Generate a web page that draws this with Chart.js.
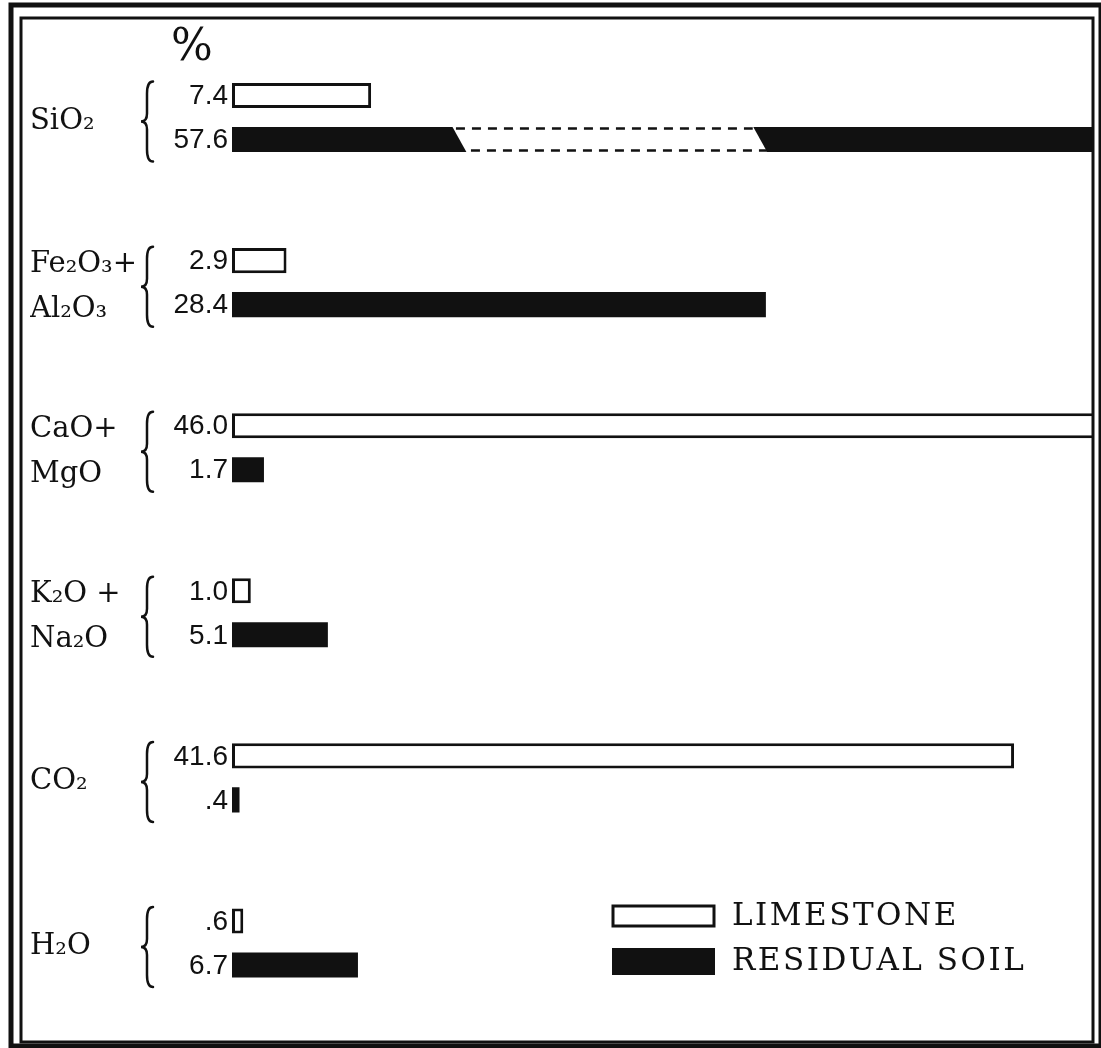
<!DOCTYPE html>
<html><head><meta charset="utf-8">
<script src="https://cdn.jsdelivr.net/npm/chart.js@4.4.1/dist/chart.umd.min.js"></script>
<style>html,body{margin:0;padding:0;background:#fff;overflow:hidden}canvas{display:block}</style>
</head><body>
<canvas id="c" width="1101" height="1048"></canvas>
<script>
// ---- data ----
const categories = ['SiO₂', ['Fe₂O₃+', 'Al₂O₃'], ['CaO+', 'MgO'], ['K₂O +', 'Na₂O'], 'CO₂', 'H₂O'];
const limestone = [7.4, 2.9, 46.0, 1.0, 41.6, 0.6];
const residualSoil = [57.6, 28.4, 1.7, 5.1, 0.4, 6.7];
const seriesNames = ['LIMESTONE', 'RESIDUAL SOIL'];
const unitLabel = '%';
const axisMax = 45.8;
const brokenBar = { dataset: 1, index: 0, from: 11.7, to: 27.7 };

const INK = '#111';
const fmt = v => v < 1 ? v.toFixed(1).replace(/^0/, '') : v.toFixed(1);

const framePlugin = {
  id: 'frame',
  afterDraw(chart) {
    const ctx = chart.ctx;
    ctx.save();
    ctx.strokeStyle = INK;
    ctx.lineWidth = 5;
    ctx.strokeRect(11, 5, 1090, 1041);
    ctx.lineWidth = 3;
    ctx.strokeRect(21, 18, 1072, 1024);
    ctx.restore();
  }
};

const breakPlugin = {
  id: 'barBreak',
  afterDatasetsDraw(chart) {
    const ctx = chart.ctx;
    const el = chart.getDatasetMeta(brokenBar.dataset).data[brokenBar.index];
    const { y, height } = el.getProps(['y', 'height'], true);
    const xs = chart.scales.x;
    const x1 = xs.getPixelForValue(brokenBar.from), x2 = xs.getPixelForValue(brokenBar.to);
    const top = y - height / 2, bot = y + height / 2, sl = 15;
    ctx.save();
    ctx.fillStyle = '#fff';
    ctx.beginPath();
    ctx.moveTo(x1, top - 1); ctx.lineTo(x2, top - 1);
    ctx.lineTo(x2 + sl, bot + 1); ctx.lineTo(x1 + sl, bot + 1);
    ctx.closePath(); ctx.fill();
    ctx.strokeStyle = INK; ctx.lineWidth = 2.5; ctx.setLineDash([9, 7]);
    ctx.beginPath();
    ctx.moveTo(x1 + 4, top + 1.5); ctx.lineTo(x2, top + 1.5);
    ctx.moveTo(x1 + sl + 4, bot - 1.5); ctx.lineTo(x2 + sl, bot - 1.5);
    ctx.stroke();
    ctx.restore();
  }
};

const valueLabelPlugin = {
  id: 'valueLabels',
  afterDatasetsDraw(chart) {
    const ctx = chart.ctx;
    const x0 = chart.scales.x.getPixelForValue(0);
    ctx.save();
    ctx.fillStyle = INK;
    ctx.font = '28px "Liberation Sans"';
    ctx.textAlign = 'right';
    ctx.textBaseline = 'middle';
    chart.data.datasets.forEach((ds, di) => {
      chart.getDatasetMeta(di).data.forEach((el, i) => {
        ctx.fillText(fmt(ds.data[i]), x0 - 4, el.y + 1);
      });
    });
    ctx.font = '44px "DejaVu Serif"';
    ctx.textAlign = 'center';
    ctx.fillText(unitLabel, x0 - 40, chart.chartArea.top + 14);
    ctx.restore();
  }
};

const bracePlugin = {
  id: 'braces',
  afterDraw(chart) {
    const ctx = chart.ctx;
    const ys = chart.scales.y;
    ctx.save();
    ctx.strokeStyle = INK; ctx.lineWidth = 2.5; ctx.lineCap = 'round';
    categories.forEach((c, i) => {
      const yc = ys.getPixelForValue(i) + 4;
      const h = 80, x = 141, w = 12;
      const yt = yc - h / 2, yb = yc + h / 2, xm = x + w / 2;
      ctx.beginPath();
      ctx.moveTo(x + w, yt);
      ctx.quadraticCurveTo(xm, yt, xm, yt + 12);
      ctx.lineTo(xm, yc - 8);
      ctx.quadraticCurveTo(xm, yc, x, yc);
      ctx.quadraticCurveTo(xm, yc, xm, yc + 8);
      ctx.lineTo(xm, yb - 12);
      ctx.quadraticCurveTo(xm, yb, x + w, yb);
      ctx.stroke();
    });
    ctx.restore();
  }
};

const legendPlugin = {
  id: 'customLegend',
  afterDraw(chart) {
    const ctx = chart.ctx;
    const ds = chart.data.datasets;
    ctx.save();
    ctx.font = '31px "DejaVu Serif"';
    ctx.letterSpacing = '2.5px';
    ctx.textBaseline = 'middle';
    ctx.fillStyle = INK;
    ctx.lineWidth = 3; ctx.strokeStyle = ds[0].borderColor; ctx.fillStyle = ds[0].backgroundColor;
    ctx.fillRect(613, 906, 101, 20); ctx.strokeRect(613, 906, 101, 20);
    ctx.fillStyle = INK; ctx.fillText(ds[0].label, 732, 917);
    ctx.fillStyle = ds[1].backgroundColor; ctx.fillRect(612, 948, 103, 27);
    ctx.fillStyle = INK; ctx.fillText(ds[1].label, 732, 962);
    ctx.restore();
  }
};

new Chart(document.getElementById('c'), {
  type: 'bar',
  data: {
    labels: categories,
    datasets: [
      { label: seriesNames[0], data: limestone, backgroundColor: '#fff', borderColor: INK, borderWidth: 3, borderSkipped: false },
      { label: seriesNames[1], data: residualSoil, backgroundColor: INK, borderColor: INK, borderWidth: 0 }
    ]
  },
  options: {
    indexAxis: 'y',
    responsive: false,
    animation: false,
    devicePixelRatio: 1,
    layout: { padding: { left: 30, right: 8, top: 35, bottom: 22 } },
    datasets: { bar: { categoryPercentage: 0.533, barPercentage: 0.57 } },
    scales: {
      x: { display: false, min: 0, max: axisMax },
      y: {
        grid: { display: false }, border: { display: false },
        afterFit(s) { s.width = 202; },
        ticks: { crossAlign: 'far', padding: 0, labelOffset: 4, color: INK, font: { family: 'DejaVu Serif', size: 29, lineHeight: '45px' } }
      }
    },
    plugins: { legend: { display: false }, tooltip: { enabled: false } }
  },
  plugins: [breakPlugin, valueLabelPlugin, bracePlugin, legendPlugin, framePlugin]
});
</script>
</body></html>
